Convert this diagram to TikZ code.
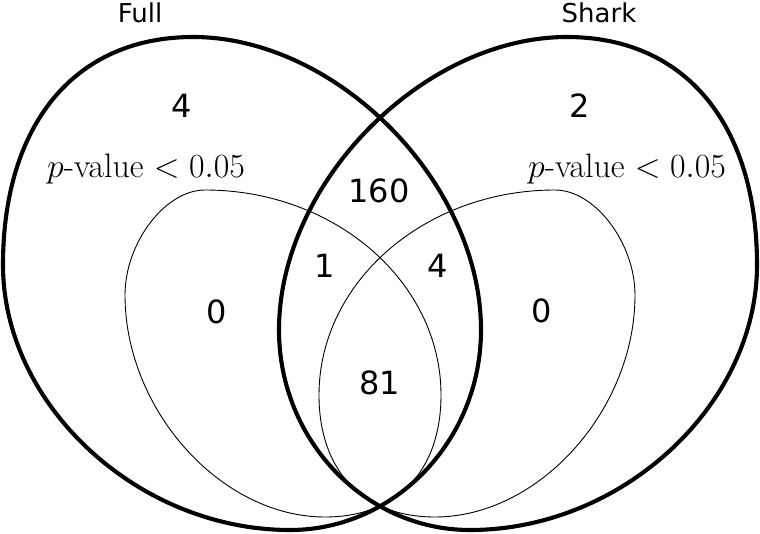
\documentclass[tikz,border=0pt]{standalone}
\usepackage{fontspec}
\newfontfamily\dvs{DejaVu Sans}
\tikzset{
  thickset/.style={line width=4.1pt},
  thinset/.style={line width=0.9pt},
  numlab/.style={font=\dvs\fontsize{32}{36}\selectfont, inner sep=0pt},
  titlelab/.style={font=\dvs\fontsize{26}{30}\selectfont, inner sep=0pt},
  plab/.style={font=\Huge, inner sep=0pt, anchor=base, scale=1.36},
}
\begin{document}
\begin{tikzpicture}[x=1pt,y=-1pt]
\useasboundingbox (0,0) rectangle (760,533);
\def\thinpath{(205,190) .. controls (335,190) and (441,282) .. (441,395)
  .. controls (441,471) and (397,517) .. (325,517)
  .. controls (221,517) and (125,410) .. (125,295)
  .. controls (125,243) and (165,190) .. cycle}
\def\thickpath{(193,37) .. controls (337,37) and (481,183) .. (481,330)
  .. controls (481,440) and (395,530) .. (290,530)
  .. controls (138,530) and (3,405) .. (3,265)
  .. controls (3,124) and (75,37) .. cycle}
% thin curves (p-value < 0.05)
\draw[thinset] \thinpath;
\begin{scope}[xshift=760pt, xscale=-1]
\draw[thinset] \thinpath;
\end{scope}
% thick curves
\draw[thickset] \thickpath;
\begin{scope}[xshift=760pt, xscale=-1]
\draw[thickset] \thickpath;
\end{scope}
% labels
\node[titlelab] (tfull) at (140,13) {Full};
\node[titlelab] (tshark) at (599,13) {Shark};
\node[numlab] (nfull) at (182,106) {4};
\node[numlab] (nshark) at (580,106) {2};
\node[plab] (pfull) at (146,177) {$p$-value $<0.05$};
\node[plab] (pshark) at (627,177) {$p$-value $<0.05$};
\node[numlab] (nboth) at (379,191) {160};
\node[numlab] (nfp) at (325,266) {1};
\node[numlab] (nsp) at (438,266) {4};
\node[numlab] (nfpo) at (217,312) {0};
\node[numlab] (nspo) at (542,311) {0};
\node[numlab] (nall) at (380,383) {81};
\end{tikzpicture}
\end{document}
